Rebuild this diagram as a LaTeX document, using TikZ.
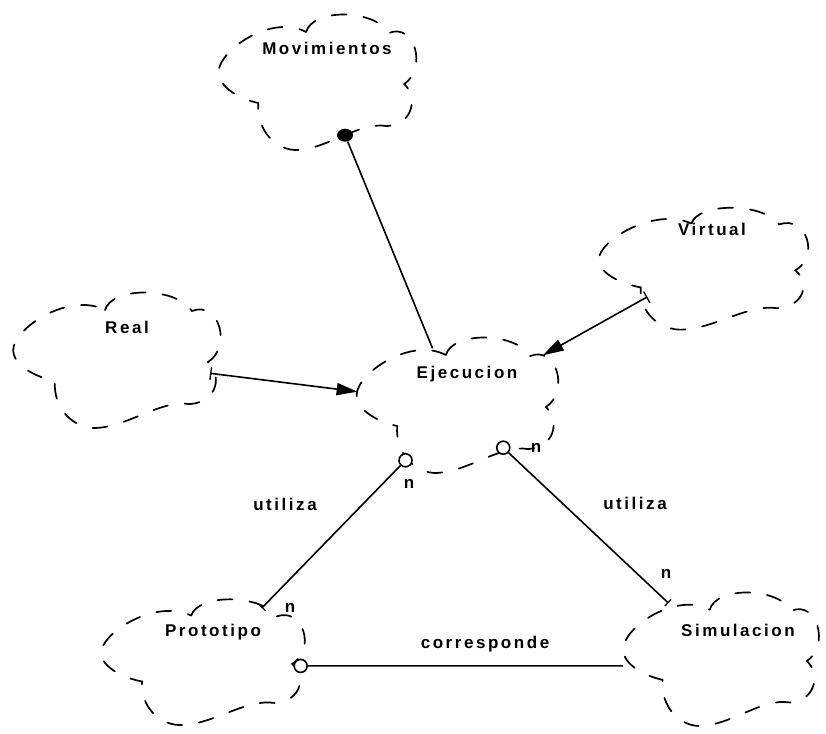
\documentclass[tikz,border=0pt]{standalone}
\usepackage{fontspec}
\setmainfont{Liberation Sans}
\newfontfamily\lblfont[LetterSpace=15]{Liberation Sans}
\usetikzlibrary{shapes.geometric,arrows.meta}

% Booch class cloud outline, in a unit box [-1,1]x[-1,1] (y pointing down)
\newcommand\boochoutline{%
  (-0.112,-0.714) .. controls (-0.05,-1.05) and (0.55,-1.05) .. (0.70,-0.70)
  .. controls (0.95,-0.85) and (1.08,-0.2) .. (0.85,0.03)
  .. controls (0.98,0.2) and (0.95,0.6) .. (0.68,0.63)
  .. controls (0.42,0.56) and (0.1,0.95) .. (-0.19,0.97)
  .. controls (-0.4,0.99) and (-0.6,0.7) .. (-0.58,0.3)
  .. controls (-0.75,0.25) and (-0.97,0.08) .. (-0.97,-0.14)
  .. controls (-0.97,-0.45) and (-0.45,-0.98) .. (-0.112,-0.714) -- cycle}

\tikzset{
  cloudline/.style={line width=1.7pt, dash pattern=on 15pt off 17pt, line cap=round},
  lbl/.style={font=\lblfont\bfseries\fontsize{17}{20}\selectfont, inner sep=0pt},
  conn/.style={line width=1.6pt},
  hascirc/.style={circle, draw, fill=white, line width=1.6pt, minimum size=13pt, inner sep=0pt},
  hasdot/.style={ellipse, fill=black, minimum width=16pt, minimum height=13pt, inner sep=0pt},
  bararr/.style={{Bar[width=13pt,line width=1.3pt]}-{Triangle[length=21pt,width=12pt]}},
  barend/.style={-{Bar[width=9pt,line width=1.3pt]}},
}

\begin{document}
\begin{tikzpicture}[x=1pt,y=-1pt]
\useasboundingbox (0,0) rectangle (826,733);

% ---- class clouds, with the points where relations attach ----
\begin{scope}[shift={(317.5,82)}, xscale=102, yscale=70]
  \draw[cloudline] \boochoutline;
  \coordinate (movB) at (0.27,0.76);
\end{scope}
\begin{scope}[shift={(703.5,268.5)}, xscale=108, yscale=63]
  \draw[cloudline] \boochoutline;
  \coordinate (virB) at (-0.52,0.45);
\end{scope}
\begin{scope}[shift={(117,360)}, xscale=107, yscale=70]
  \draw[cloudline] \boochoutline;
  \coordinate (realR) at (0.87,0.19);
\end{scope}
\begin{scope}[shift={(457.5,405)}, xscale=104, yscale=70]
  \draw[cloudline] \boochoutline;
  \coordinate (ejeT) at (-0.24,-0.81);
  \coordinate (ejeR) at (0.82,-0.71);
  \coordinate (ejeL) at (-0.96,-0.19);
  \coordinate (ejeP) at (-0.50,0.79);
  \coordinate (ejeS) at (0.44,0.61);
\end{scope}
\begin{scope}[shift={(203,662)}, xscale=105, yscale=65]
  \draw[cloudline] \boochoutline;
  \coordinate (protoT) at (0.56,-0.83);
  \coordinate (protoR) at (0.93,0.06);
\end{scope}
\begin{scope}[shift={(721,659)}, xscale=101, yscale=69]
  \draw[cloudline] \boochoutline;
  \coordinate (simT) at (-0.52,-0.81);
  \coordinate (simL) at (-0.97,0.10);
\end{scope}

% ---- class names ----
\node[lbl, anchor=base] (movN)   at (327,55)  {Movimientos};
\node[lbl, anchor=base] (virN)   at (712,235) {Virtual};
\node[lbl, anchor=base] (realN)  at (127,333) {Real};
\node[lbl, anchor=base] (ejeN)   at (467,378) {Ejecucion};
\node[lbl, anchor=base] (protoN) at (213,636) {Prototipo};
\node[lbl, anchor=base] (simN)   at (738,636) {Simulacion};

% ---- relations ----
% Movimientos -- Ejecucion
\node[hasdot] (movD) at (movB) {};
\draw[conn] (movD) -- (ejeT);

% Virtual and Real --> Ejecucion
\draw[conn, bararr] (virB) -- (ejeR);
\draw[conn, bararr] (realR) -- (ejeL);

% Ejecucion uses Prototipo and Simulacion
\node[hascirc] (ejePc) at (ejeP) {};
\node[hascirc] (ejeSc) at (ejeS) {};
\draw[conn, barend] (ejePc) -- (protoT);
\draw[conn, barend] (ejeSc) -- (simT);

% Prototipo corresponds to Simulacion
\node[hascirc] (protoRc) at (protoR) {};
\draw[conn] (protoRc) -- (simL);

% ---- relation labels ----
\node[lbl, anchor=base] (u1) at (285,510) {utiliza};
\node[lbl, anchor=base] (u2) at (635,509) {utiliza};
\node[lbl, anchor=base] (corr) at (485,648) {corresponde};
\node[lbl, anchor=base] (n1) at (409,488) {n};
\node[lbl, anchor=base] (n2) at (536,452) {n};
\node[lbl, anchor=base] (n3) at (666,578) {n};
\node[lbl, anchor=base] (n4) at (290,612) {n};
\end{tikzpicture}
\end{document}
